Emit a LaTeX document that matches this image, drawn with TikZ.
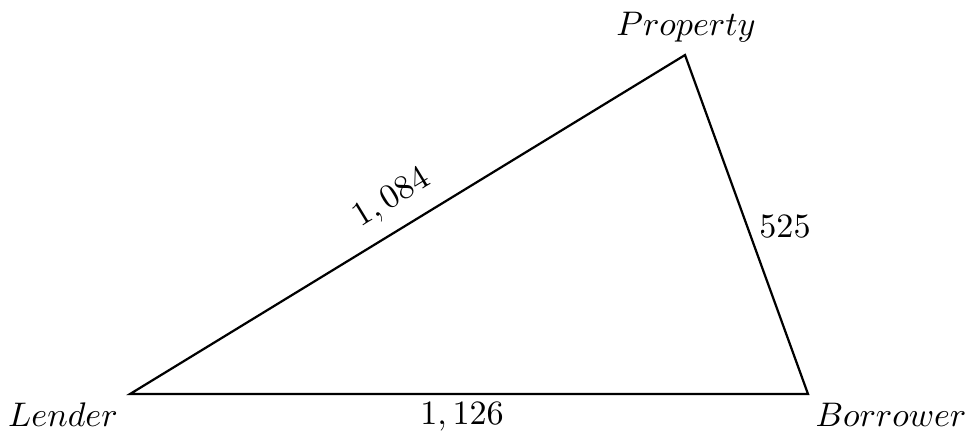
\documentclass[tikz,border=0pt]{standalone}
\begin{document}
\begin{tikzpicture}[x=0.0103cm,y=-0.0103cm,
  edge/.style={line width=0.65pt, line join=miter},
  lbl/.style={inner sep=0pt}]
\useasboundingbox (0,0) rectangle (971,434);
\coordinate (L) at (130,394);
\coordinate (B) at (808,394);
\coordinate (P) at (685,55);
\draw[edge] (L) -- (B) -- (P) -- cycle;
\node[lbl] (lender) at (63,415) {$Lender$};
\node[lbl] (borrower) at (891,415) {$Borrower$};
\node[lbl] (property) at (686,27) {$Property$};
\node[lbl, rotate=31.4] (e1) at (392,199) {$1,084$};
\node[lbl] (e2) at (785,226) {$525$};
\node[lbl] (e3) at (462,417) {$1,126$};
\end{tikzpicture}
\end{document}
